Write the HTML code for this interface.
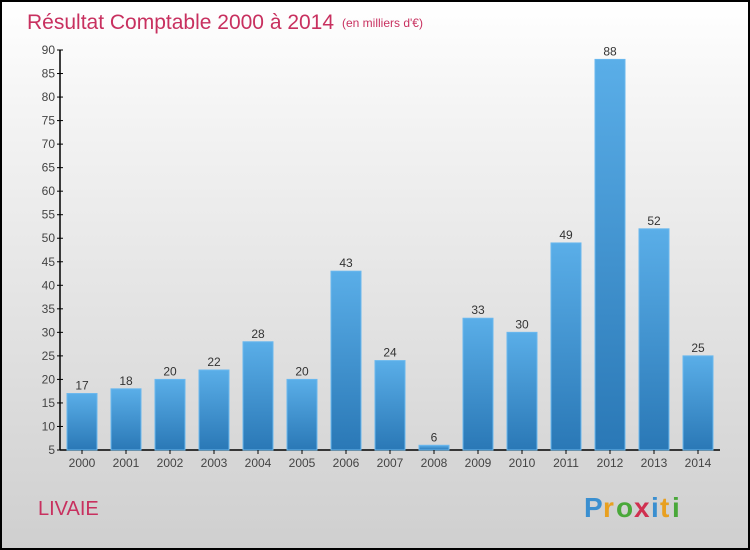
<!DOCTYPE html>
<html><head><meta charset="utf-8"><style>
body{margin:0}
#c{position:relative;width:746px;height:546px;border:2px solid #000;background:linear-gradient(#fff,#f4f4f4 20%,#cfcfcf);font-family:"Liberation Sans",sans-serif;overflow:hidden}
</style></head><body>
<div id="c">
<svg id="s" width="746" height="546" style="position:absolute;left:0;top:0">
<defs><linearGradient id="g" x1="0" y1="0" x2="0" y2="1"><stop offset="0" stop-color="#5aaee8"/><stop offset="1" stop-color="#2a78b6"/></linearGradient></defs>
<text x="25" y="27" font-size="21" fill="#c8305f">Résultat Comptable 2000 à 2014</text>
<text x="340" y="25" font-size="12" fill="#c8305f">(en milliers d'€)</text>
<text x="36" y="513" font-size="20" fill="#c8305f">LIVAIE</text>
<g font-size="28" font-weight="bold">
<text x="582" y="515" fill="#3a8fd0">P</text><text x="601" y="515" fill="#e8a020">r</text><text x="614" y="515" fill="#4aa83a">o</text><text x="632" y="515" fill="#d03050">x</text><text x="649" y="515" fill="#3a8fd0">i</text><text x="658" y="515" fill="#e8a020">t</text><text x="670" y="515" fill="#4aa83a">i</text>
</g>
</svg>
</div>
<script>
const years=["2000","2001","2002","2003","2004","2005","2006","2007","2008","2009","2010","2011","2012","2013","2014"];
const values=[17,18,20,22,28,20,43,24,6,33,30,49,88,52,25];
const ticks=[5,10,15,20,25,30,35,40,45,50,55,60,65,70,75,80,85,90];
const s=document.getElementById('s');const NS='http://www.w3.org/2000/svg';
const y=v=>448-(v-5)*400/85;
const x=i=>80+i*44;
function mk(t,a,p){const e=document.createElementNS(NS,t);for(const k in a)e.setAttribute(k,a[k]);(p||s).appendChild(e);return e;}
let ax=mk('line',{x1:58,y1:y(90),x2:58,y2:448,stroke:'#000','stroke-width':1.5});


let bx=mk('line',{x1:58,y1:448,x2:718,y2:448,stroke:'#000','stroke-width':1.5});


ticks.forEach(t=>{
 mk('line',{x1:55,y1:y(t),x2:61,y2:y(t),stroke:'#000'});
 const tx=mk('text',{x:53,y:y(t)+4,'font-size':12,fill:'#444','text-anchor':'end'});tx.textContent=t;
 
 
});
years.forEach((yr,i)=>{
 const v=values[i];
 const r=mk('rect',{x:x(i)-15,y:y(v),width:30,height:448-y(v),fill:'url(#g)',stroke:'#6ab8ee','stroke-width':1});
 
 
 const l=mk('text',{x:x(i),y:y(v)-4,'font-size':12,fill:'#333','text-anchor':'middle'});l.textContent=v;
 
 
 mk('line',{x1:x(i),y1:448,x2:x(i),y2:452,stroke:'#000'});
 const xl=mk('text',{x:x(i),y:465,'font-size':12,fill:'#444','text-anchor':'middle'});xl.textContent=yr;
 
 
});
</script>
</body></html>
